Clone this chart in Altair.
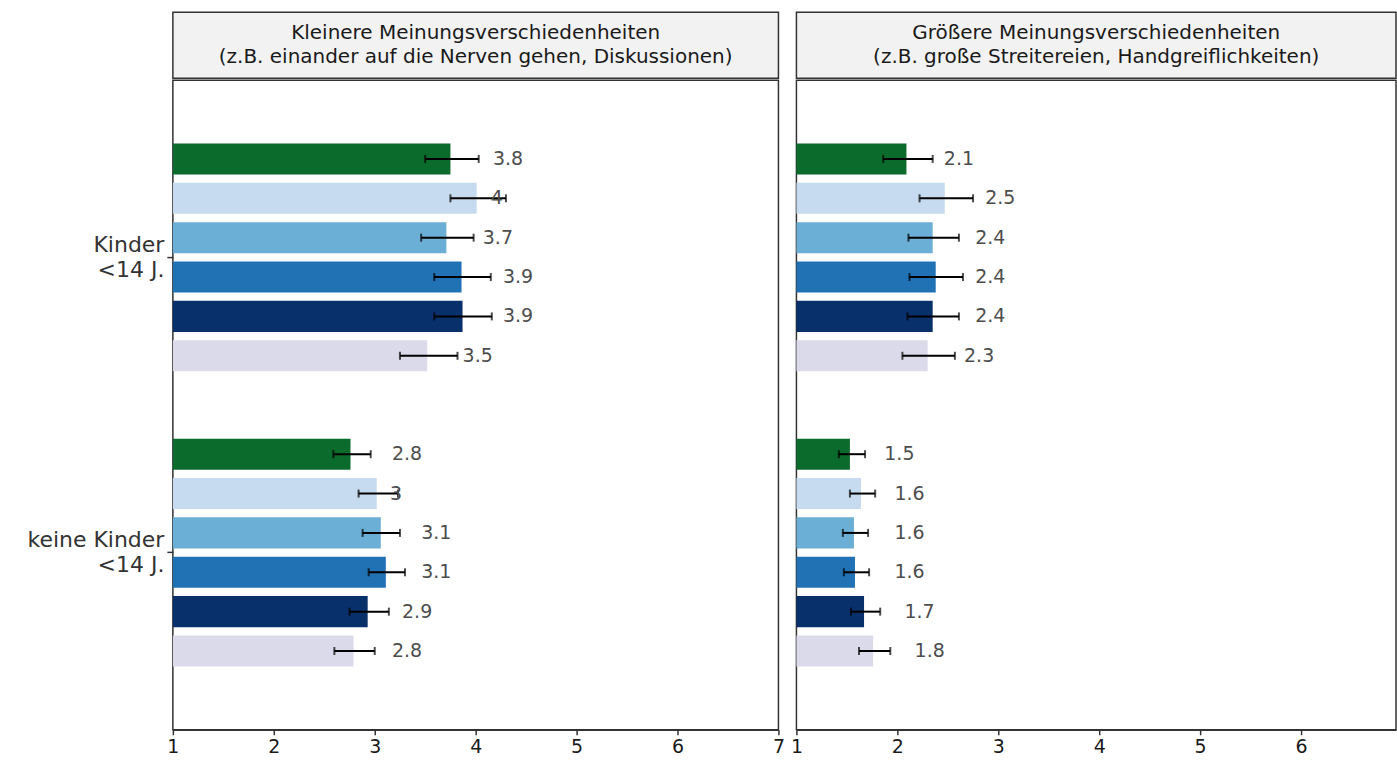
import altair as alt
import pandas as pd

# ---------------- data ----------------
panels = [
    "Kleinere Meinungsverschiedenheiten\n(z.B. einander auf die Nerven gehen, Diskussionen)",
    "Größere Meinungsverschiedenheiten\n(z.B. große Streitereien, Handgreiflichkeiten)",
]
groups = ["Kinder <14 J.", "keine Kinder <14 J."]
series = ["Serie 1", "Serie 2", "Serie 3", "Serie 4", "Serie 5", "Serie 6"]
colors = ["#0b6b2c", "#c6dbef", "#6baed6", "#2171b5", "#08306b", "#dadaeb"]

# panel 1: Kleinere Meinungsverschiedenheiten
p1_kinder_mean = [3.75, 4.01, 3.71, 3.86, 3.87, 3.52]
p1_kinder_lo = [3.50, 3.75, 3.46, 3.59, 3.59, 3.25]
p1_kinder_hi = [4.03, 4.30, 3.98, 4.15, 4.16, 3.82]
p1_kinder_label = ["3.8", "4", "3.7", "3.9", "3.9", "3.5"]
p1_kinder_label_x = [4.32, 4.21, 4.22, 4.42, 4.42, 4.02]

p1_keine_mean = [2.76, 3.02, 3.06, 3.11, 2.93, 2.79]
p1_keine_lo = [2.59, 2.84, 2.88, 2.94, 2.75, 2.60]
p1_keine_hi = [2.96, 3.23, 3.25, 3.30, 3.14, 3.00]
p1_keine_label = ["2.8", "3", "3.1", "3.1", "2.9", "2.8"]
p1_keine_label_x = [3.32, 3.21, 3.61, 3.61, 3.42, 3.32]

# panel 2: Größere Meinungsverschiedenheiten
p2_kinder_mean = [2.09, 2.47, 2.35, 2.38, 2.35, 2.30]
p2_kinder_lo = [1.86, 2.22, 2.11, 2.12, 2.10, 2.05]
p2_kinder_hi = [2.35, 2.75, 2.61, 2.65, 2.61, 2.57]
p2_kinder_label = ["2.1", "2.5", "2.4", "2.4", "2.4", "2.3"]
p2_kinder_label_x = [2.61, 3.02, 2.92, 2.92, 2.92, 2.81]

p2_keine_mean = [1.53, 1.64, 1.57, 1.58, 1.67, 1.76]
p2_keine_lo = [1.42, 1.53, 1.46, 1.47, 1.54, 1.62]
p2_keine_hi = [1.68, 1.78, 1.71, 1.72, 1.83, 1.93]
p2_keine_label = ["1.5", "1.6", "1.6", "1.6", "1.7", "1.8"]
p2_keine_label_x = [2.02, 2.12, 2.12, 2.12, 2.22, 2.32]

x_ticks = [1, 2, 3, 4, 5, 6, 7]


def make_df(blocks):
    rows = []
    for grp, (mean, lo, hi, lab, lx) in zip(groups, blocks):
        for s, m, l, h, t, x in zip(series, mean, lo, hi, lab, lx):
            rows.append(dict(gruppe=grp, serie=s, mittel=m, lo=l, hi=h, label=t, label_x=x))
    return pd.DataFrame(rows)


df1 = make_df([
    (p1_kinder_mean, p1_kinder_lo, p1_kinder_hi, p1_kinder_label, p1_kinder_label_x),
    (p1_keine_mean, p1_keine_lo, p1_keine_hi, p1_keine_label, p1_keine_label_x),
])
df2 = make_df([
    (p2_kinder_mean, p2_kinder_lo, p2_kinder_hi, p2_kinder_label, p2_kinder_label_x),
    (p2_keine_mean, p2_keine_lo, p2_keine_hi, p2_keine_label, p2_keine_label_x),
])

FONT = "DejaVu Sans"
PANEL_H = 650
STRIP_H = 66
BORDER = "#333333"


def panel(df, width, x_max, ticks, show_y):
    xscale = alt.Scale(domain=[1, x_max], nice=False, zero=False)
    xaxis = alt.Axis(values=ticks, format="d", grid=False, labelFontSize=19,
                     labelColor="#1a1a1a", labelFont=FONT, tickColor=BORDER,
                     tickSize=5, tickWidth=1.5, domainColor=BORDER, domainWidth=1.5,
                     labelPadding=3, labelFlush=False)
    if show_y:
        yaxis = alt.Axis(
            labelExpr="[slice(datum.label, 0, indexof(datum.label, ' <')), "
                      "slice(datum.label, indexof(datum.label, ' <') + 1)]",
            labelFontSize=22, labelColor="#333333", labelFont=FONT, labelLineHeight=25,
            labelAlign="right", labelBaseline="middle", labelPadding=3, labelOffset=-12.5,
            tickColor=BORDER, tickSize=6, tickWidth=1.5, domain=False, labelLimit=400,
        )
    else:
        yaxis = None
    y = alt.Y("gruppe:N", sort=groups, title=None, axis=yaxis,
              scale=alt.Scale(paddingInner=0.2, paddingOuter=0.2))
    yoff = alt.YOffset("serie:N", sort=series,
                       scale=alt.Scale(paddingInner=0.21, paddingOuter=0.105))
    base = alt.Chart(df)
    bars = base.mark_bar().encode(
        x=alt.X("mittel:Q", scale=xscale, axis=xaxis, title=None),
        x2=alt.datum(1),
        y=y, yOffset=yoff,
        color=alt.Color("serie:N", scale=alt.Scale(domain=series, range=colors), legend=None),
    )
    err = base.mark_rule(color="black", strokeWidth=2).encode(
        x=alt.X("lo:Q", scale=xscale, axis=xaxis, title=None),
        x2="hi:Q", y=y, yOffset=yoff,
    )
    cap_lo = base.mark_tick(color="black", thickness=2, size=8).encode(
        x=alt.X("lo:Q", scale=xscale, axis=xaxis, title=None), y=y, yOffset=yoff,
    )
    cap_hi = base.mark_tick(color="black", thickness=2, size=8).encode(
        x=alt.X("hi:Q", scale=xscale, axis=xaxis, title=None), y=y, yOffset=yoff,
    )
    txt = base.mark_text(fontSize=19, color="#4d4d4d", font=FONT, align="center",
                         baseline="middle").encode(
        x=alt.X("label_x:Q", scale=xscale, axis=xaxis, title=None),
        y=y, yOffset=yoff, text="label:N",
    )
    return alt.layer(bars, err, cap_lo, cap_hi, txt).properties(
        width=width, height=PANEL_H,
        view=alt.ViewBackground(fill="white", stroke=BORDER, strokeWidth=1.5),
    )


def strip(title, width):
    sdf = pd.DataFrame({"t": [title]})
    return alt.Chart(sdf).mark_text(
        fontSize=20, color="#1a1a1a", font=FONT, lineHeight=24, lineBreak="\n",
        align="center", baseline="middle",
    ).encode(
        text="t:N", x=alt.value(width / 2), y=alt.value(STRIP_H / 2 - 12),
    ).properties(
        width=width, height=STRIP_H,
        view=alt.ViewBackground(fill="#f2f2f2", stroke=BORDER, strokeWidth=1.5),
    )


W1 = 606
W2 = 600
col1 = alt.vconcat(strip(panels[0], W1), panel(df1, W1, 7, x_ticks, True), spacing=0)
col2 = alt.vconcat(strip(panels[1], W2), panel(df2, W2, 1 + W2 / 101.0, x_ticks[:-1], False), spacing=0)

chart = alt.hconcat(col1, col2, spacing=4).properties(
    padding={"left": 26, "top": 11, "right": 0, "bottom": 0},
    background="white",
).configure(font=FONT).configure_view(stroke=None)

chart.save("out.html", embed_options={"renderer": "svg", "actions": False})
